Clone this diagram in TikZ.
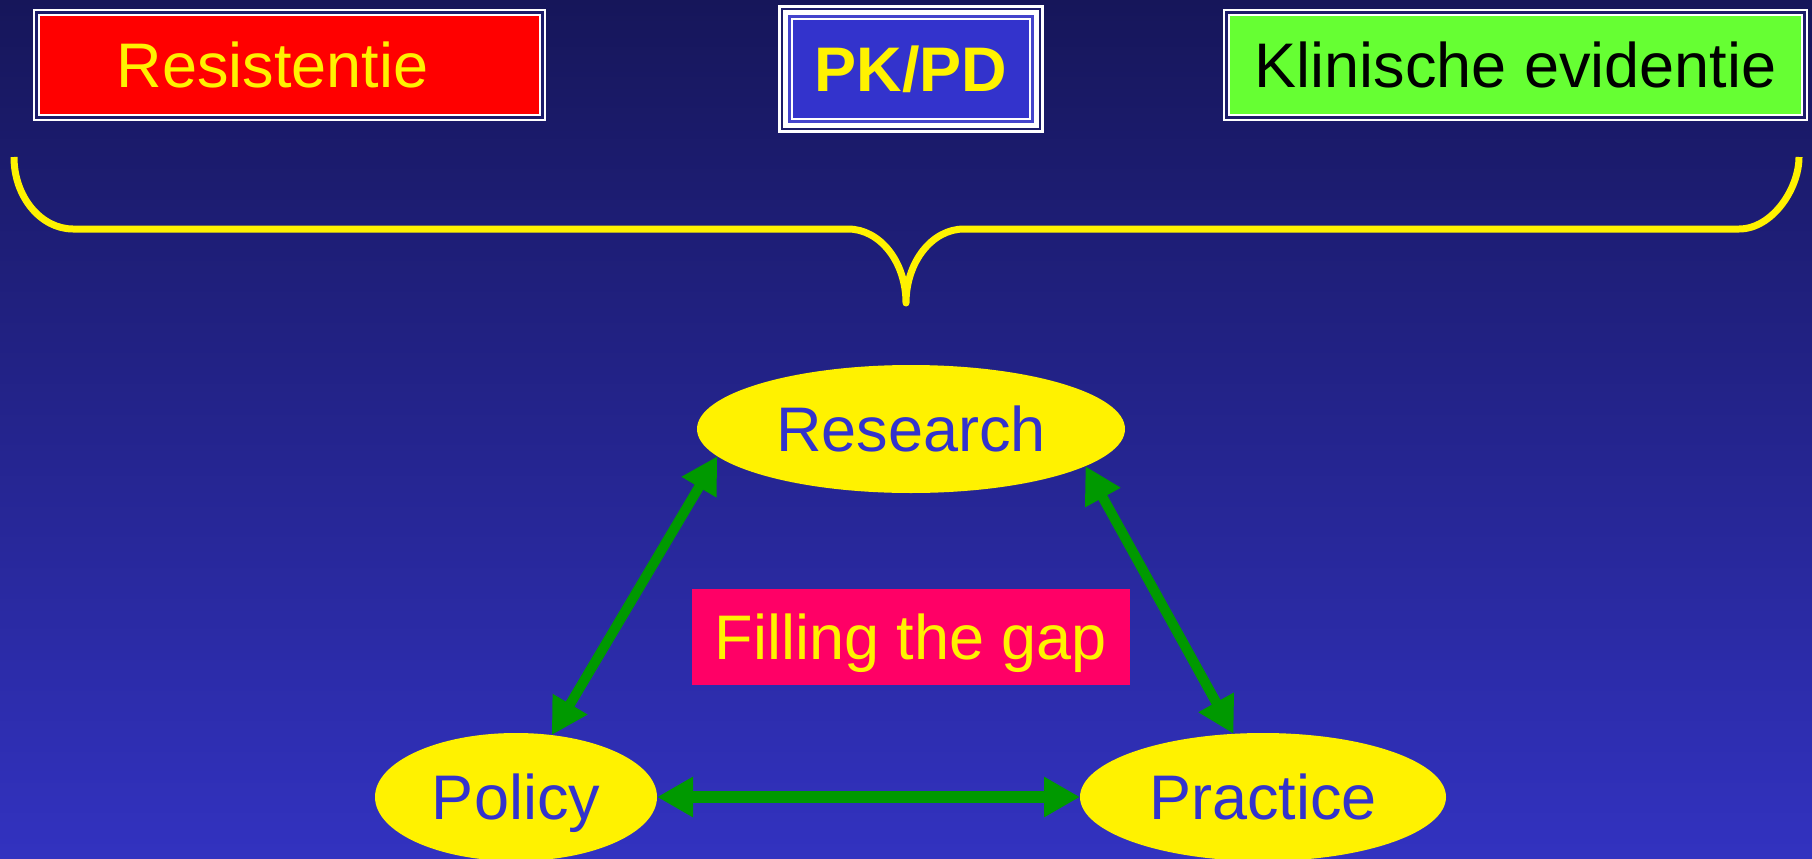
\documentclass[tikz,border=0pt]{standalone}
\usepackage{fontspec}
\setmainfont{Liberation Sans}
\usetikzlibrary{arrows.meta,shapes.geometric}
\definecolor{bgtop}{RGB}{22,22,90}
\definecolor{bgbottom}{RGB}{50,50,192}
\definecolor{resred}{RGB}{255,0,0}
\definecolor{pkblue}{RGB}{51,51,204}
\definecolor{pkline}{RGB}{68,68,204}
\definecolor{klingreen}{RGB}{102,255,51}
\definecolor{framenavy}{RGB}{28,28,106}
\definecolor{linkgreen}{RGB}{0,153,0}
\definecolor{gappink}{RGB}{255,0,102}
\definecolor{ovaltext}{RGB}{51,51,204}
\begin{document}
\begin{tikzpicture}[x=1pt, y=-1pt,
	bigfont/.style={font=\fontsize{63}{70}\selectfont, text height=45pt, text depth=0pt, inner sep=0pt, outer sep=0pt},
	topbox/.style={bigfont, draw=white, double=framenavy, line width=2.2pt, double distance=2.5pt, minimum width=#1, minimum height=105pt},
	oval/.style={ellipse, bigfont, fill=yellow, text=ovaltext, minimum width=#1, minimum height=128pt},
	link/.style={draw=linkgreen, line width=10pt, {Triangle[length=36pt,width=38pt]}-{Triangle[length=36pt,width=38pt]}}]
	\useasboundingbox (0,0) rectangle (1812,859);
	\shade[top color=bgtop, bottom color=bgbottom] (0,0) rectangle (1812,859);
	\node[topbox=506pt, fill=resred, text=yellow] (resist) at (289.5,65) {Resistentie\hspace*{34pt}};
	\node[bigfont, fill=pkblue, text=yellow, draw=white, double=framenavy, line width=3pt, double distance=2.3pt, minimum width=257.7pt, minimum height=119.7pt] (pkpd) at (911,69) {\bfseries PK/PD};
	\draw[white, line width=2.7pt, double=pkline, double distance=2.3pt] ([shift={(7.35,7.35)}]pkpd.north west) rectangle ([shift={(-7.35,-7.35)}]pkpd.south east);
	\node[topbox=578pt, fill=klingreen, text=black] (klin) at (1515.5,65) {Klinische evidentie};
	\draw[yellow, line width=7pt, line join=round] (14,157) .. controls (14,197) and (41,229) .. (73,229) -- (848,229) .. controls (880,229) and (906,262) .. (906,303) .. controls (906,262) and (932,229) .. (964,229) -- (1739,229) .. controls (1772,229) and (1799,189) .. (1799,157);
	\node[oval=428pt] (research) at (911,429) {Research};
	\node[oval=282pt] (policy) at (516,797) {Policy};
	\node[oval=366pt] (practice) at (1263,797) {Practice};
	\node[bigfont, fill=gappink, text=yellow, minimum width=438pt, minimum height=96pt] (gap) at (911,637) {Filling the gap};
	\draw[link] (research.188) -- (policy.60);
	\draw[link] (research.348) -- (practice.115);
	\draw[link, line width=12pt] (policy) -- (practice);
\end{tikzpicture}
\end{document}
